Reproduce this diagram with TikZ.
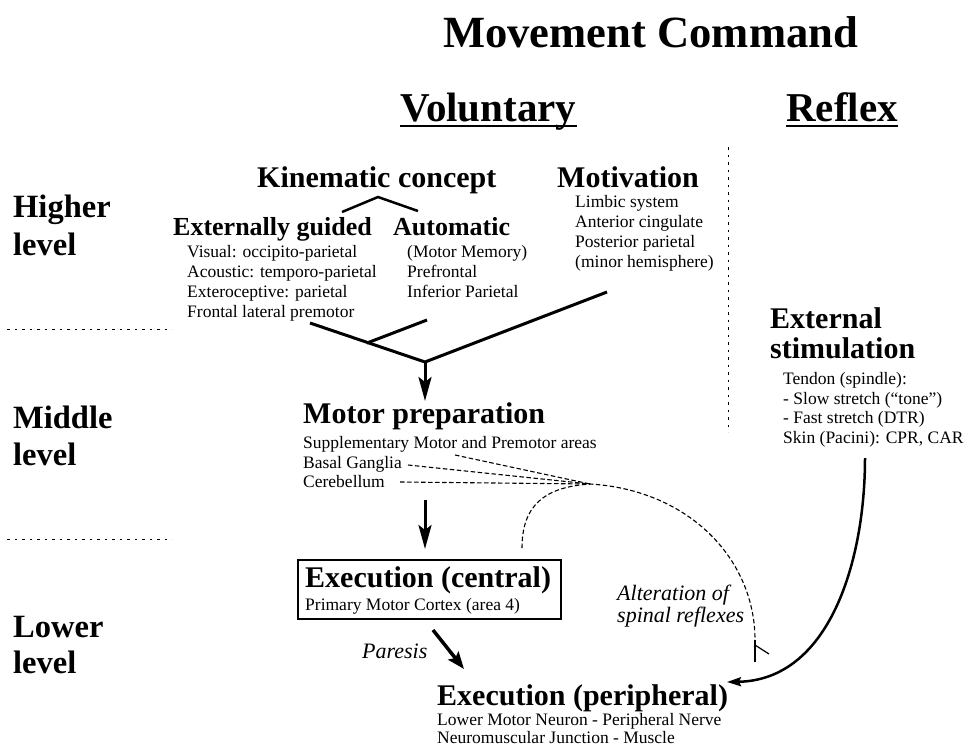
\documentclass[tikz,border=0pt]{standalone}
\usepackage{fontspec}
\setmainfont{Liberation Serif}
\usetikzlibrary{arrows.meta}
\begin{document}
\begin{tikzpicture}[x=1pt,y=-1pt,
  sm/.style={anchor=base west,inner sep=0pt,font=\fontsize{17.5}{20}\selectfont},
  hd/.style={anchor=base west,inner sep=0pt,font=\bfseries\fontsize{30}{34}\selectfont},
  subhd/.style={anchor=base west,inner sep=0pt,font=\bfseries\fontsize{26}{30}\selectfont},
  lvl/.style={anchor=base west,inner sep=0pt,font=\bfseries\fontsize{32.5}{36}\selectfont},
  colhd/.style={anchor=base west,inner sep=0pt,font=\bfseries\fontsize{41}{45}\selectfont},
  itl/.style={anchor=base west,inner sep=0pt,font=\itshape\fontsize{22}{26}\selectfont},
  sepline/.style={line width=0.9pt,dash pattern=on 2.5pt off 5pt},
  fun/.style={line width=3pt},
  bigarrow/.style={line width=3pt,-{Stealth[length=24pt,width=13pt,inset=5pt]}},
  dsh/.style={line width=1.1pt,dash pattern=on 4.5pt off 2.5pt},
]
\useasboundingbox (0,0) rectangle (966,747);

% title and column heads
\node[anchor=base west,inner sep=0pt,font=\bfseries\fontsize{44.6}{50}\selectfont] (title) at (443,47) {Movement Command};
\node[colhd] (vol) at (400,121) {Voluntary};
\node[colhd] (ref) at (786,121) {Reflex};
\draw[line width=2.5pt] ([yshift=-5pt]vol.base west) -- ([yshift=-5pt]vol.base east);
\draw[line width=2.5pt] ([yshift=-5pt]ref.base west) -- ([yshift=-5pt]ref.base east);

% level labels
\node[lvl] (hi1) at (13,217) {Higher};
\node[lvl] (hi2) at (13,255) {level};
\node[lvl] (mi1) at (13,428) {Middle};
\node[lvl] (mi2) at (13,465) {level};
\node[lvl] (lo1) at (13,637) {Lower};
\node[lvl] (lo2) at (13,673) {level};
\coordinate (s1a) at (7,329); \coordinate (s1b) at (172,329);
\coordinate (s2a) at (7,539); \coordinate (s2b) at (172,539);
\draw[sepline] (s1a) -- (s1b);
\draw[sepline] (s2a) -- (s2b);
\coordinate (v1) at (728,147); \coordinate (v2) at (728,432);
\draw[sepline] (v1) -- (v2);

% higher level
\node[hd] (kin) at (257,187) {Kinematic concept};
\node[subhd] (ext) at (173,235) {Externally guided};
\node[subhd] (aut) at (393,235) {Automatic};
\node[sm] (e1) at (187,257) {Visual: occipito-parietal};
\node[sm] (e2) at (187,277) {Acoustic: temporo-parietal};
\node[sm] (e3) at (187,297) {Exteroceptive: parietal};
\node[sm] (e4) at (187,317) {Frontal lateral premotor};
\node[sm] (a1) at (407,257) {(Motor Memory)};
\node[sm] (a2) at (407,277) {Prefrontal};
\node[sm] (a3) at (407,297) {Inferior Parietal};
\node[hd] (mot) at (557,187) {Motivation};
\node[sm] (m1) at (575,207) {Limbic system};
\node[sm] (m2) at (575,227) {Anterior cingulate};
\node[sm] (m3) at (575,247) {Posterior parietal};
\node[sm] (m4) at (575,267) {(minor hemisphere)};

\coordinate (kl) at (342,212); \coordinate (kpk) at (378,197); \coordinate (kr) at (418,211);
\draw[line width=2.5pt] (kl) -- (kpk) -- (kr);

\coordinate (f1) at (310,323); \coordinate (f2) at (427,320); \coordinate (f3) at (367,343);
\coordinate (f4) at (607,292); \coordinate (cv) at (425,362); \coordinate (mptop) at (425,401);
\draw[fun] (f1) -- (cv) -- (f4);
\draw[fun] (f2) -- (f3);
\draw[bigarrow] (cv) -- (mptop);

% middle level
\node[hd] (mp) at (303,423) {Motor preparation};
\node[sm] (p1) at (303,448) {Supplementary Motor and Premotor areas};
\node[sm] (p2) at (303,468) {Basal Ganglia};
\node[sm] (p3) at (303,487) {Cerebellum};
\coordinate (mpbot) at (425,500); \coordinate (ectop) at (425,549);
\draw[bigarrow] (mpbot) -- (ectop);

% external stimulation
\node[hd] (es1) at (770,328) {External};
\node[hd] (es2) at (770,358) {stimulation};
\node[sm] (t1) at (783,384) {Tendon (spindle):};
\node[sm] (t2) at (783,404) {- Slow stretch (“tone”)};
\node[sm] (t3) at (783,423) {- Fast stretch (DTR)};
\node[sm] (t4) at (783,443) {Skin (Pacini): CPR, CAR};

% lower level
\node[draw,line width=1.8pt,anchor=north west,minimum width=263pt,minimum height=59pt,inner sep=0pt] (ecbox) at (297,559) {};
\node[hd] (ec) at (305,587) {Execution (central)};
\node[sm] (ec1) at (305,610) {Primary Motor Cortex (area 4)};
\node[itl] (par) at (362,658) {Paresis};
\coordinate (pa1) at (433,630); \coordinate (pa2) at (464,669);
\draw[line width=3.5pt,-{Stealth[length=17pt,width=13pt,inset=3pt]}] (pa1) -- (pa2);

\node[hd] (ep) at (437,705) {Execution (peripheral)};
\node[sm] (ep1) at (437,725) {Lower Motor Neuron - Peripheral Nerve};
\node[sm] (ep2) at (437,743) {Neuromuscular Junction - Muscle};

\node[itl] (alt1) at (617,600) {Alteration of};
\node[itl] (alt2) at (617,622) {spinal reflexes};

% dashed influences
\coordinate (conv) at (590,484);
\coordinate (d1s) at (455,455); \coordinate (d2s) at (408,465); \coordinate (d3s) at (400,482);
\coordinate (boxtop) at (522,548); \coordinate (tee) at (755,640);
\draw[dsh] (d1s) -- (conv);
\draw[dsh] (d2s) -- (conv);
\draw[dsh] (d3s) -- (conv);
\draw[dsh] (boxtop) .. controls (522,505) and (545,487) .. (conv) .. controls (690,490) and (755,560) .. (tee);
\coordinate (teeb) at (755,662); \coordinate (barb1) at (755,645); \coordinate (barb2) at (769,654);
\draw[line width=1.2pt] (tee) -- (teeb);
\draw[line width=1.2pt] (barb1) -- (barb2);

% reflex arrow
\coordinate (es0) at (865,458); \coordinate (epr) at (727,682);
\draw[line width=2.5pt,-{Stealth[length=14pt,width=9pt,inset=2pt]}] (es0) .. controls (865,560) and (830,680) .. (epr);
\end{tikzpicture}
\end{document}
